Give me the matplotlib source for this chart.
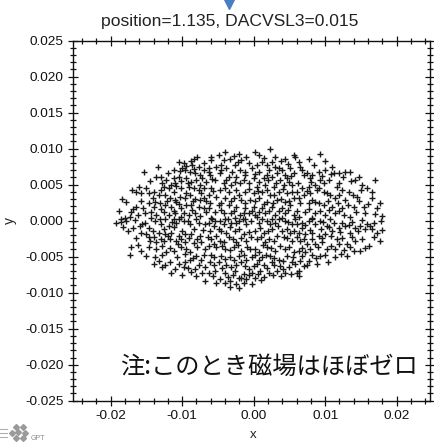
import numpy as np
import matplotlib
matplotlib.use("Agg")
import matplotlib.pyplot as plt
from matplotlib.ticker import MultipleLocator, FormatStrFormatter

plt.rcParams['font.family'] = ['Liberation Sans', 'Noto Sans CJK JP', 'DejaVu Sans']

# Particle coordinates at the observation plane, in units of 1e-4 (x, y)
upper_left = [
    (-83, 86), (-88, 83), (-79, 88), (-98, 80), (-95, 76), (-105, 82), (-86, 77), (-77, 74),
    (-70, 70), (-111, 70), (-103, 69), (-96, 70), (-89, 68), (-82, 66), (-75, 63), (-134, 74),
    (-153, 67), (-137, 61), (-129, 60), (-122, 57), (-112, 59), (-104, 61), (-101, 55), (-94, 59),
    (-87, 54), (-80, 56), (-72, 59), (-126, 47), (-119, 45), (-115, 49), (-108, 48), (-101, 45),
    (-91, 47), (-84, 45), (-77, 42), (-70, 46), (-160, 47), (-164, 40), (-157, 39), (-147, 38),
    (-139, 40), (-133, 36), (-124, 36), (-117, 31), (-110, 29), (-103, 33), (-96, 31), (-89, 36),
    (-82, 30), (-75, 29), (-69, 31), (-184, 30), (-147, 24), (-138, 26), (-131, 24), (-124, 22),
    (-115, 19), (-108, 26), (-101, 17), (-94, 22), (-87, 22), (-77, 19), (-70, 17), (-164, 19),
    (-172, 12), (-161, 8), (-152, 10), (-143, 12), (-136, 8), (-126, 12), (-119, 8), (-110, 10),
    (-101, 5), (-91, 8), (-82, 10), (-75, 7), (-173, 5), (-180, 4), (-124, 3), (-112, 2),
]
upper_mid = [
    (-49, 91), (-40, 96), (-21, 93), (2, 95), (7, 91), (23, 99), (30, 89), (44, 86),
    (56, 91), (-59, 84), (-42, 84), (-33, 86), (-17, 84), (-7, 80), (11, 82), (18, 77),
    (30, 75), (39, 70), (51, 73), (-63, 73), (-52, 75), (-38, 73), (-26, 77), (-19, 70),
    (-3, 73), (7, 68), (21, 70), (32, 66), (44, 63), (56, 66), (-61, 63), (-47, 66),
    (-35, 61), (-24, 61), (-12, 63), (0, 59), (14, 59), (25, 61), (37, 56), (49, 54),
    (-66, 54), (-54, 56), (-42, 52), (-31, 49), (-19, 52), (-7, 52), (4, 47), (16, 49),
    (28, 47), (42, 49), (53, 49), (-59, 45), (-47, 42), (-35, 40), (-24, 42), (-12, 40),
    (0, 38), (11, 40), (23, 36), (35, 40), (46, 38), (-63, 36), (-52, 33), (-40, 31),
    (-28, 31), (-17, 29), (-5, 29), (7, 31), (18, 26), (32, 29), (44, 26), (56, 31),
    (-61, 24), (-49, 22), (-35, 22), (-24, 19), (-12, 17), (0, 19), (11, 17), (25, 19),
    (39, 17), (51, 22), (-66, 12), (-54, 12), (-42, 10), (-31, 10), (-19, 8), (-7, 10),
    (2, 8), (16, 10), (30, 8), (44, 10), (56, 8), (-59, 4), (-40, 3), (-26, 4),
    (-12, 3), (4, 5), (25, 3), (39, 4),
]
upper_right = [
    (58, 89), (77, 86), (93, 92), (100, 83), (109, 75), (65, 75), (67, 70), (74, 66),
    (81, 63), (79, 59), (91, 68), (100, 70), (112, 66), (119, 66), (128, 67), (135, 68),
    (147, 61), (142, 56), (93, 56), (105, 56), (86, 49), (77, 47), (67, 45), (60, 40),
    (70, 36), (79, 38), (88, 42), (98, 40), (107, 36), (116, 47), (123, 42), (133, 40),
    (114, 31), (128, 29), (144, 33), (158, 45), (170, 56), (165, 31), (154, 19), (172, 17),
    (140, 19), (123, 17), (109, 19), (98, 22), (86, 26), (77, 24), (65, 24), (72, 12),
    (86, 10), (100, 8), (114, 10), (126, 8), (135, 5), (63, 5), (81, 3),
]
lower_left = [
    (-192, -3), (-185, -2), (-178, 0), (-175, -14), (-159, -7), (-152, -3), (-147, -10), (-138, 0),
    (-129, -5), (-119, -7), (-108, -3), (-98, 0), (-89, -5), (-77, -3), (-157, -17), (-150, -19),
    (-140, -23), (-133, -17), (-124, -19), (-115, -17), (-105, -21), (-96, -19), (-87, -19), (-75, -21),
    (-145, -28), (-136, -30), (-126, -28), (-117, -26), (-108, -28), (-96, -30), (-84, -31), (-73, -30),
    (-171, -37), (-157, -42), (-173, -47), (-136, -40), (-122, -44), (-112, -42), (-101, -37), (-89, -44),
    (-80, -49), (-70, -47), (-138, -51), (-133, -56), (-124, -61), (-117, -58), (-110, -67), (-98, -65),
    (-89, -54), (-82, -67), (-80, -77), (-96, -58),
]
lower_mid = [
    (-63, -3), (-54, 0), (-42, -5), (-31, -3), (-21, 0), (-10, -5), (7, -3), (18, 0),
    (30, -3), (44, 0), (53, -5), (-61, -14), (-49, -12), (-38, -17), (-26, -14), (-14, -19),
    (2, -14), (14, -17), (25, -12), (39, -14), (51, -17), (-59, -26), (-47, -28), (-35, -23),
    (-24, -30), (-10, -28), (4, -26), (16, -30), (28, -28), (42, -23), (53, -28), (-63, -35),
    (-52, -37), (-40, -40), (-28, -37), (-17, -42), (-5, -40), (7, -44), (18, -37), (30, -42),
    (44, -40), (-59, -47), (-45, -49), (-33, -51), (-21, -49), (-10, -54), (2, -47), (11, -51),
    (23, -49), (35, -54), (46, -49), (-61, -58), (-49, -58), (-38, -61), (-24, -61), (-12, -63),
    (0, -63), (14, -61), (25, -58), (37, -63), (53, -58), (-54, -70), (-40, -72), (-26, -70),
    (-14, -74), (-3, -72), (9, -70), (21, -72), (32, -70), (44, -72), (-63, -72), (-47, -81),
    (-33, -84), (-21, -79), (-10, -81), (2, -79), (-24, -88),
]
lower_right = [
    (60, -5), (67, -3), (77, 0), (86, -5), (93, 0), (102, -7), (112, -3), (119, -10),
    (128, -7), (135, -17), (142, -10), (149, -7), (158, -5), (168, -3), (172, -17), (177, -28),
    (63, -17), (72, -19), (81, -17), (91, -21), (100, -19), (109, -14), (116, -26), (130, -33),
    (142, -28), (65, -28), (74, -33), (86, -33), (95, -30), (102, -40), (114, -40), (140, -42),
    (149, -42), (161, -35), (63, -42), (72, -44), (81, -47), (93, -49), (114, -51), (65, -56),
    (77, -56), (70, -63), (63, -70), (63, -77), (60, -72),
]
# further particles in the crowded core of the spot
core_upper = [
    (-60, 88), (-28, 90), (-10, 88), (15, 87), (38, 83), (-70, 80), (-45, 78), (-22, 81),
    (5, 78), (25, 82), (48, 79), (63, 81), (85, 78), (-120, 66), (-100, 73), (-84, 72),
    (-62, 68), (-45, 70), (-30, 67), (-12, 68), (2, 65), (18, 64), (35, 73), (52, 62),
    (70, 64), (95, 62), (108, 65), (125, 60), (-145, 55), (-128, 52), (-110, 53), (-92, 52),
    (-75, 50), (-58, 58), (-38, 56), (-26, 54), (-13, 57), (8, 54), (20, 56), (31, 52),
    (47, 59), (62, 53), (80, 54), (98, 52), (120, 53), (136, 55), (152, 50), (-170, 43),
    (-150, 45), (-130, 43), (-112, 40), (-95, 38), (-73, 38), (-57, 41), (-40, 46), (-20, 36),
    (-6, 44), (6, 41), (19, 43), (29, 35), (41, 44), (53, 40), (74, 41), (92, 46),
    (103, 39), (120, 36), (139, 36), (150, 42), (165, 40), (-178, 26), (-158, 28), (-141, 32),
    (-121, 28), (-104, 23), (-85, 27), (-66, 28), (-45, 25), (-31, 27), (-12, 24), (2, 27),
    (14, 23), (27, 24), (38, 30), (50, 27), (63, 31), (81, 29), (92, 25), (104, 27),
    (118, 24), (132, 22), (148, 27), (160, 23), (176, 25), (-188, 14), (-168, 16), (-155, 18),
    (-140, 19), (-129, 16), (-112, 14), (-97, 11), (-86, 15), (-62, 17), (-45, 15), (-28, 13),
    (-14, 11), (-2, 14), (8, 12), (21, 14), (35, 13), (48, 15), (61, 14), (77, 16),
    (93, 13), (106, 15), (120, 14), (143, 12), (156, 10), (170, 9), (180, 6),
]
core_lower = [
    (-186, 3), (-166, 1), (-156, -4), (-143, 4), (-131, 2), (-114, -2), (-104, 3), (-92, -1),
    (-81, 2), (-68, -5), (-58, 2), (-47, -1), (-36, 2), (-25, -3), (-15, 3), (-4, -1),
    (12, 2), (23, -4), (36, 3), (48, -2), (58, 2), (72, -6), (82, 4), (97, -2),
    (107, 2), (124, -3), (138, -2), (152, 1), (163, -7), (178, -1), (-183, -9), (-168, -10),
    (-141, -14), (-126, -11), (-111, -9), (-100, -14), (-84, -11), (-71, -13), (-56, -8), (-45, -15),
    (-33, -9), (-20, -12), (-6, -16), (9, -10), (20, -14), (34, -8), (46, -12), (57, -15),
    (68, -10), (79, -13), (94, -12), (106, -9), (121, -16), (133, -6), (146, -15), (155, -12),
    (166, -11), (180, -13), (-165, -24), (-147, -22), (-129, -25), (-120, -21), (-101, -26), (-90, -24),
    (-79, -26), (-64, -22), (-52, -21), (-41, -29), (-29, -25), (-17, -24), (-4, -22), (10, -23),
    (22, -26), (33, -21), (47, -24), (60, -23), (70, -26), (82, -25), (96, -24), (108, -21),
    (124, -24), (137, -22), (152, -26), (168, -22), (-162, -34), (-146, -37), (-128, -35), (-117, -38),
    (-106, -33), (-94, -40), (-79, -36), (-68, -39), (-56, -33), (-44, -35), (-33, -41), (-22, -34),
    (-9, -36), (2, -39), (13, -34), (24, -38), (37, -35), (50, -36), (57, -43), (68, -38),
    (79, -40), (90, -36), (108, -35), (120, -33), (127, -41), (135, -37), (155, -38), (-150, -49),
    (-128, -47), (-107, -50), (-96, -46), (-85, -52), (-74, -54), (-56, -51), (-40, -53), (-27, -55),
    (-14, -47), (-3, -51), (8, -55), (17, -47), (29, -52), (41, -56), (55, -51), (68, -49),
    (87, -52), (100, -48), (122, -46), (130, -49), (-140, -60), (-128, -65), (-104, -60), (-92, -66),
    (-76, -61), (-68, -64), (-56, -62), (-44, -66), (-31, -65), (-18, -58), (-7, -67), (5, -60),
    (18, -66), (29, -61), (41, -67), (50, -64), (58, -60), (75, -62), (88, -60), (104, -58),
    (-115, -72), (-100, -75), (-88, -71), (-72, -73), (-57, -77), (-36, -78), (-29, -75), (-17, -80),
    (-6, -76), (6, -74), (15, -78), (27, -76), (38, -77), (52, -74), (-68, -84), (-52, -87),
    (-40, -86), (-14, -86), (-2, -88), (10, -83), (-33, -92), (-20, -93),
]

title_text = "position=1.135, DACVSL3=0.015"
note_text = "注:このとき磁場はほぼゼロ"
x_ticks = [-0.02, -0.01, 0.00, 0.01, 0.02]
y_ticks = [-0.025, -0.020, -0.015, -0.010, -0.005, 0.000, 0.005, 0.010, 0.015, 0.020, 0.025]

pts = np.array(upper_left + upper_mid + upper_right + lower_left + lower_mid + lower_right
               + core_upper + core_lower, float) * 1e-4
xs, ys = pts[:, 0], pts[:, 1]

W, H = 434, 444
fig = plt.figure(figsize=(W / 100, H / 100), dpi=100)
ax = fig.add_axes([72.7 / W, 1 - 400.7 / H, (430.3 - 72.7) / W, (400.7 - 40.7) / H])

ax.plot(xs, ys, linestyle='none', marker='+', markersize=4.8, markeredgewidth=1.0,
        color='#1a1a1a')

ax.set_xlim(-0.0253, 0.0247)
ax.set_ylim(-0.025, 0.025)
ax.set_xticks(x_ticks)
ax.set_yticks(y_ticks)
ax.xaxis.set_major_formatter(FormatStrFormatter('%.2f'))
ax.yaxis.set_major_formatter(FormatStrFormatter('%.3f'))
ax.xaxis.set_minor_locator(MultipleLocator(0.002))
ax.yaxis.set_minor_locator(MultipleLocator(0.001))
ax.tick_params(which='both', direction='inout', top=True, right=True, labelsize=9.7,
               colors='#111111', width=0.9)
ax.tick_params(which='major', length=6.5, pad=3.3)
ax.tick_params(which='minor', length=4)
for s in ax.spines.values():
    s.set_linewidth(1.0)
    s.set_color('#111111')

ax.text(-0.01867, -0.0203, note_text, fontsize=17.5, va='center', ha='left',
        family=['Noto Sans CJK JP', 'DejaVu Sans'], color='#111111', clip_on=True)

fig.text(229.5 / W, 1 - 26 / H, title_text, ha='center', va='baseline', fontsize=12.6,
         color='#222222')
fig.text(10 / W, 1 - 220.7 / H, 'y', rotation=90, ha='center', va='center', fontsize=10,
         color='#222222')
fig.text(253 / W, 1 - 435 / H, 'x', ha='center', va='center', fontsize=9.5, color='#222222')

# pointer marker above the title
fig.add_artist(plt.Line2D([229.5 / W], [1 - 3 / H], marker='v', markersize=9,
                          color='#4a7ec4', transform=fig.transFigure))

# small logo in the lower-left corner
logo_x = [16, 23, 12, 18, 25, 16, 23]
logo_y = [427, 427, 433, 432, 433, 438, 438]
for lx, ly in zip(logo_x, logo_y):
    fig.add_artist(plt.Line2D([lx / W], [1 - ly / H], marker='D', markersize=3.0,
                              color='#9a9a9a', transform=fig.transFigure))
for k in range(3):
    fig.add_artist(plt.Line2D([0.0, 7 / W], [1 - (429 + 4 * k) / H] * 2, lw=0.8,
                              color='#b0b0b0', transform=fig.transFigure))
fig.text(31 / W, 1 - 438 / H, 'GPT', fontsize=5, color='#8a8a8a', va='center')

fig.savefig('out.png', dpi=100)
